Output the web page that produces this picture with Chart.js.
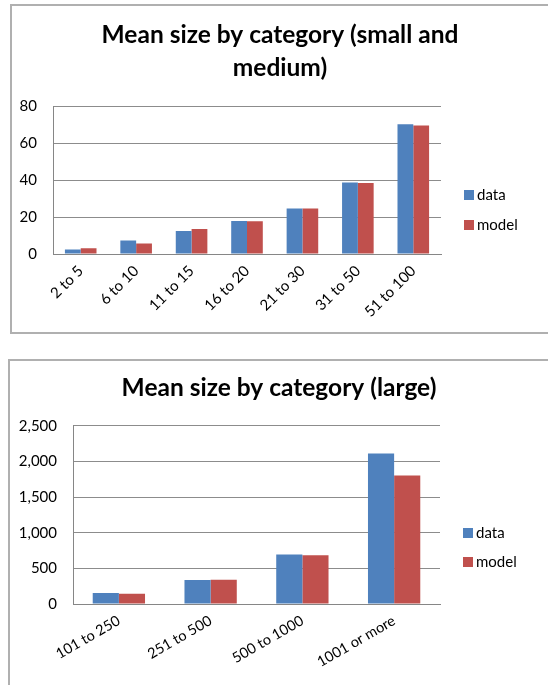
<!DOCTYPE html>
<html>
<head>
<meta charset="utf-8">
<script src="https://cdn.jsdelivr.net/npm/chart.js@4/dist/chart.umd.min.js"></script>
<style>
  html, body { margin: 0; padding: 0; background: #fff; width: 548px; height: 685px; overflow: hidden; }
  .frame { position: absolute; border: 2px solid #b0b0b0; background: #fff; box-sizing: border-box; }
  canvas { position: absolute; }
</style>
</head>
<body>
<div class="frame" style="left:10px; top:4px; width:560px; height:330px;"></div>
<div class="frame" style="left:8px; top:359px; width:560px; height:360px;"></div>
<canvas id="c1" width="536" height="327" style="left:12px; top:6px;"></canvas>
<canvas id="c2" width="538" height="324" style="left:10px; top:361px;"></canvas>
<script>
// ---- Data ----
const seriesNames = ['data', 'model'];
const smallCategories = ['2 to 5', '6 to 10', '11 to 15', '16 to 20', '21 to 30', '31 to 50', '51 to 100'];
const smallData = [2.5, 7.3, 12.5, 17.9, 24.7, 38.8, 70.3];
const smallModel = [3.1, 5.7, 13.6, 17.7, 24.7, 38.5, 69.6];
const smallTicks = [0, 20, 40, 60, 80];

const largeCategories = ['101 to 250', '251 to 500', '500 to 1000', '1001 or more'];
const largeData = [154, 335, 693, 2109];
const largeModel = [144, 339, 684, 1802];
const largeTicks = [0, 500, 1000, 1500, 2000, 2500];

const colors = ['#4F81BD', '#C0504D'];
const FONT = 'Lato, "Open Sans", sans-serif';

const legendPlugin = {
  id: 'sideLegend',
  afterDraw(chart, args, opts) {
    const ctx = chart.ctx;
    ctx.save();
    ctx.font = '15px ' + FONT;
    ctx.textBaseline = 'middle';
    ctx.textAlign = 'left';
    chart.data.datasets.forEach((ds, i) => {
      const y = opts.y + i * opts.gap;
      ctx.fillStyle = ds.backgroundColor;
      ctx.fillRect(opts.x, y - 5, 10, 10);
      ctx.fillStyle = '#000';
      ctx.fillText(ds.label, opts.x + 13, y);
    });
    ctx.restore();
  }
};

function makeChart(id, cats, d1, d2, ticks, cfg) {
  return new Chart(document.getElementById(id), {
    type: 'bar',
    data: {
      labels: cats,
      datasets: [
        { label: seriesNames[0], data: d1, backgroundColor: colors[0], borderWidth: 0 },
        { label: seriesNames[1], data: d2, backgroundColor: colors[1], borderWidth: 0 }
      ]
    },
    plugins: [legendPlugin],
    options: {
      responsive: false,
      animation: false,
      devicePixelRatio: 1,
      layout: { padding: 0 },
      datasets: { bar: { barPercentage: 1, categoryPercentage: 0.57 } },
      plugins: {
        legend: { display: false },
        tooltip: { enabled: false },
        title: {
          display: true,
          text: cfg.title,
          color: '#000',
          font: { family: FONT, size: 24.5, weight: 'bold', lineHeight: 1.375 },
          padding: { top: cfg.titleTop, bottom: cfg.titleBottom }
        },
        sideLegend: cfg.legend
      },
      scales: {
        x: {
          grid: { display: false, drawTicks: false },
          border: { display: true, color: '#868686', width: 1 },
          ticks: {
            color: '#000',
            font: { family: FONT, size: cfg.xFont },
            minRotation: cfg.rot, maxRotation: cfg.rot,
            padding: cfg.xPad, autoSkip: false
          },
          afterFit(scale) { scale.height = cfg.xHeight; }
        },
        y: {
          min: ticks[0], max: ticks[ticks.length - 1],
          afterBuildTicks(scale) { scale.ticks = ticks.map(v => ({ value: v })); },
          grid: { color: '#8c8c8c', lineWidth: 1, drawTicks: false },
          border: { display: true, color: '#868686', width: 1 },
          ticks: {
            color: '#000',
            font: { family: FONT, size: 15 },
            padding: cfg.yPad,
            callback: v => v.toLocaleString('en-US')
          },
          afterFit(scale) { scale.width = cfg.yWidth; }
        },
        legendSpace: {
          type: 'linear',
          position: 'right',
          display: true,
          grid: { display: false, drawOnChartArea: false, drawTicks: false },
          border: { display: false },
          ticks: { display: false },
          afterFit(scale) { scale.width = cfg.padRight; }
        }
      }
    }
  });
}

makeChart('c1', smallCategories, smallData, smallModel, smallTicks, {
  title: ['Mean size by category (small and', 'medium)'],
  titleTop: 12, titleBottom: 21,
  padRight: 107, rot: 45, xPad: 8, xHeight: 79, xFont: 15,
  yWidth: 41, yPad: 16,
  legend: { x: 452, y: 189, gap: 30 }
});

makeChart('c2', largeCategories, largeData, largeModel, largeTicks, {
  title: 'Mean size by category (large)',
  titleTop: 10, titleBottom: 21,
  padRight: 108, rot: 30, xPad: 8, xHeight: 81, xFont: 14.5,
  yWidth: 63, yPad: 16,
  legend: { x: 453, y: 172, gap: 29 }
});
</script>
</body>
</html>
